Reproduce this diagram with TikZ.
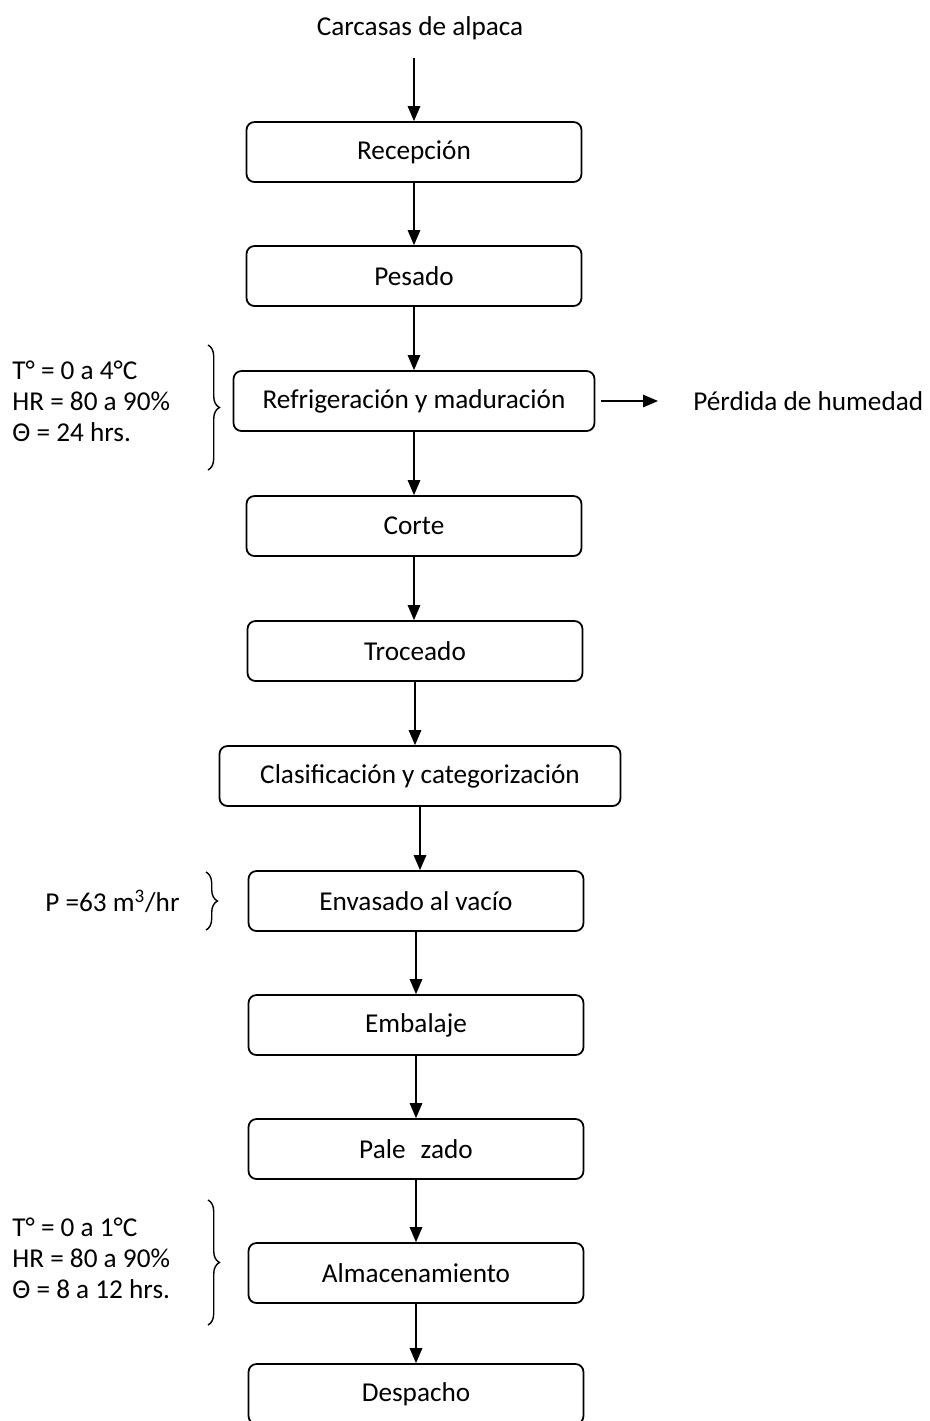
\documentclass[tikz,border=0pt]{standalone}
\usepackage{fontspec}
\setmainfont{Carlito}
\usetikzlibrary{arrows.meta,decorations.pathreplacing}

\tikzset{>={Triangle[length=0.3cm,width=0.25cm]}}
\tikzstyle{stepbox}=[draw,line width=1pt,rounded corners=4.5pt,minimum width=6.7cm,minimum height=1.2cm]
\tikzstyle{flow}=[->,line width=0.8pt]
\tikzstyle{cond}=[align=left,anchor=west,inner sep=0pt]
\tikzstyle{brc}=[decorate,decoration={brace,amplitude=6.5pt},line width=0.8pt]

\begin{document}
\begin{tikzpicture}[x=0.02cm,y=-0.02cm,font=\fontsize{15.5}{17.6}\selectfont]
  \useasboundingbox (0,0) rectangle (930,1421);

  % PROCESS STEPS
  \node (title) at (420,28) {Carcasas de alpaca};
  \coordinate (in) at (414,58);
  \node[stepbox] (rec) at (414,152)  {Recepción};
  \node[stepbox] (pes) at (414,276)  {Pesado};
  \node[stepbox,minimum width=7.22cm] (ref) at (414,401) {Refrigeración y maduración};
  \node[stepbox] (cor) at (414,526)  {Corte};
  \node[stepbox] (tro) at (415,651)  {Troceado};
  \node[stepbox,minimum width=8.02cm] (cla) at (420,776) {Clasificación y categorización};
  \node[stepbox] (env) at (416,901)  {Envasado al vacío};
  \node[stepbox] (emb) at (416,1025) {Embalaje};
  \node[stepbox] (pal) at (416,1149) {Pale\phantom{ti}zado};
  \node[stepbox] (alm) at (416,1273) {Almacenamiento};
  \node[stepbox] (des) at (416,1394) {Despacho};

  % ARROWS
  \draw[flow] (in) -- (in |- rec.north);
  \foreach \a/\b in {rec/pes,pes/ref,ref/cor,cor/tro,tro/cla,cla/env,env/emb,emb/pal,pal/alm,alm/des}
    \draw[flow] (\a.south) -- (\a.south |- \b.north);

  % MOISTURE LOSS
  \node[anchor=west,inner sep=0pt] (loss) at (693,401) {Pérdida de humedad};
  \draw[flow] (ref.east) ++(6,0) coordinate (lo) -- (lo -| 658,0);

  % CONDITIONS
  \node[cond] (c1) at (12,401) {T° = 0 a 4°C\\HR = 80 a 90\%\\Θ = 24 hrs.};
  \draw[brc] (208,345) -- (208,470);
  \node[cond] (c2) at (45,901) {P =63 m\textsuperscript{3}/hr};
  \draw[brc] (206,872) -- (206,930);
  \node[cond] (c3) at (12,1258) {T° = 0 a 1°C\\HR = 80 a 90\%\\Θ = 8 a 12 hrs.};
  \draw[brc] (208,1200) -- (208,1325);

\end{tikzpicture}
\end{document}
